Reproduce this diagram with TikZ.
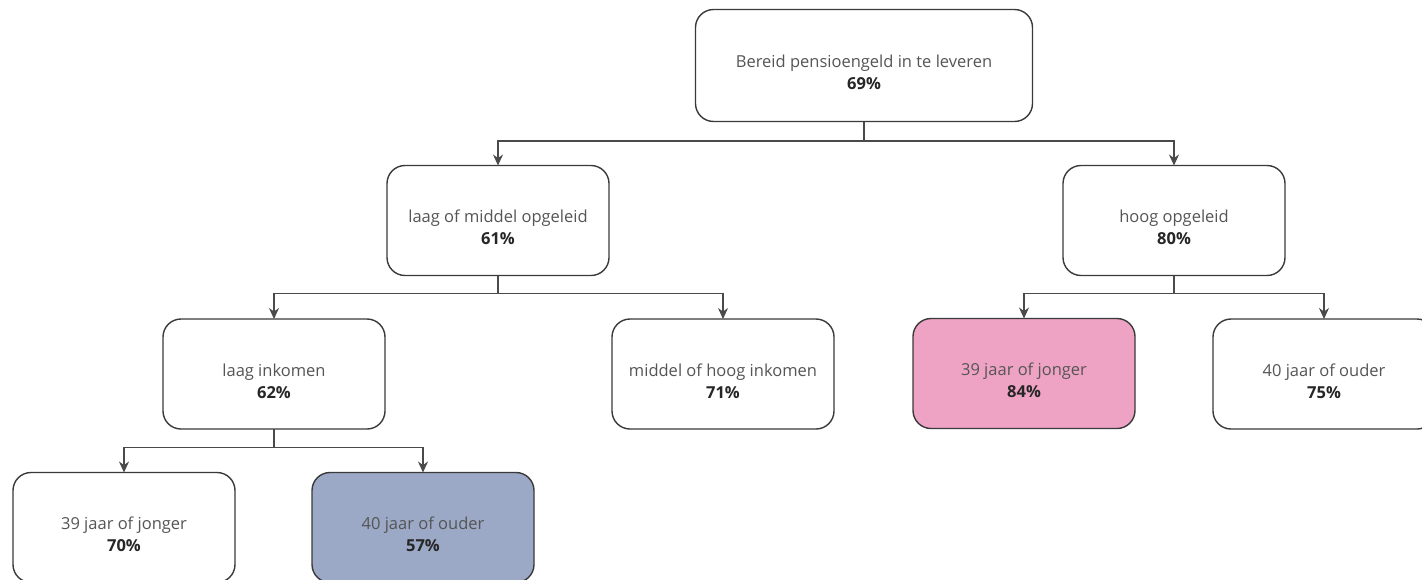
\documentclass[tikz,border=0pt]{standalone}
\usepackage{fontspec}
\setmainfont{Open Sans}
\usetikzlibrary{arrows.meta}
\definecolor{txtgray}{HTML}{555555}
\definecolor{pct}{HTML}{262626}
\definecolor{boxline}{HTML}{3A3A3A}
\definecolor{linegray}{HTML}{4A4A4A}
\definecolor{pinkfill}{HTML}{EFA3C4}
\definecolor{bluefill}{HTML}{9BA8C6}
\tikzset{
  box/.style={draw=boxline, line width=1.4pt, rounded corners=18pt, fill=white,
    minimum width=222pt, minimum height=110pt, inner sep=0pt, outer sep=0pt,
    align=center, font=\fontsize{16.5}{22}\selectfont, text=txtgray},
  conn/.style={draw=linegray, line width=1.2pt, -{Stealth[length=11pt,width=10pt]}},
}
\newcommand{\lbl}[2]{\raisebox{-7pt}[\height][\depth]{#1}\\\raisebox{-7pt}[\height][\depth]{\textcolor{pct}{\textbf{#2}}}}
\begin{document}
\begin{tikzpicture}[x=1pt,y=-1pt]
\useasboundingbox (0,0) rectangle (1422,579);
\node[box, minimum width=337pt, minimum height=112pt] (top) at (864,65.5) {\lbl{Bereid pensioengeld in te leveren}{69\%}};
\node[box] (lmo) at (498,220.5) {\lbl{laag of middel opgeleid}{61\%}};
\node[box] (ho) at (1174,220.5) {\lbl{hoog opgeleid}{80\%}};
\node[box] (li) at (274,374) {\lbl{laag inkomen}{62\%}};
\node[box] (mhi) at (723,374) {\lbl{middel of hoog inkomen}{71\%}};
\node[box, fill=pinkfill] (hj) at (1024,373.5) {\lbl{39 jaar of jonger}{84\%}};
\node[box] (ho40) at (1324,374) {\lbl{40 jaar of ouder}{75\%}};
\node[box] (lj) at (124,527.5) {\lbl{39 jaar of jonger}{70\%}};
\node[box, fill=bluefill] (lo40) at (423,527.5) {\lbl{40 jaar of ouder}{57\%}};
\draw[conn] (top.south) -- ++(0,19.5) -| (lmo.north);
\draw[conn] (top.south) -- ++(0,19.5) -| (ho.north);
\draw[conn] (lmo.south) -- ++(0,18) -| (li.north);
\draw[conn] (lmo.south) -- ++(0,18) -| (mhi.north);
\draw[conn] (ho.south) -- ++(0,18) -| (hj.north);
\draw[conn] (ho.south) -- ++(0,18) -| (ho40.north);
\draw[conn] (li.south) -- ++(0,18.5) -| (lj.north);
\draw[conn] (li.south) -- ++(0,18.5) -| (lo40.north);
\end{tikzpicture}
\end{document}
